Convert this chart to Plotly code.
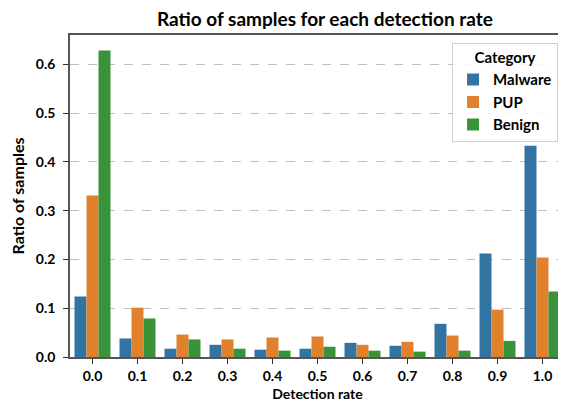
import plotly.graph_objects as go

rates = ["0.0", "0.1", "0.2", "0.3", "0.4", "0.5", "0.6", "0.7", "0.8", "0.9", "1.0"]
malware = [0.124, 0.038, 0.017, 0.025, 0.015, 0.017, 0.029, 0.023, 0.068, 0.212, 0.433]
pup = [0.331, 0.101, 0.046, 0.036, 0.040, 0.042, 0.025, 0.031, 0.044, 0.097, 0.204]
benign = [0.628, 0.079, 0.036, 0.017, 0.013, 0.021, 0.013, 0.011, 0.013, 0.033, 0.134]

series = [("Malware", malware, "#3274a1"), ("PUP", pup, "#e1812c"), ("Benign", benign, "#3a923a")]

font = "Lato, 'Open Sans', sans-serif"
fig = go.Figure()
for name, vals, col in series:
    fig.add_trace(go.Bar(x=rates, y=vals, name=name, marker=dict(color=col, line=dict(width=0))))

# page body has an 8px margin, so the figure is sized/offset to compensate
fig.update_layout(
    width=558, height=396,
    margin=dict(l=62, r=1, t=27, b=47),
    barmode="group", bargap=0.2, bargroupgap=0,
    plot_bgcolor="white", paper_bgcolor="white",
    font=dict(family=font, size=14, color="black"),
    title=dict(text="<b>Ratio of samples for each detection rate</b>", x=0.568, xanchor="center",
               xref="container", y=1 - 11 / 396, yref="container", yanchor="middle",
               font=dict(size=19, family=font)),
    legend=dict(title=dict(text="<b>Category</b>", side="top center", font=dict(size=15)),
                x=0.986, xanchor="right", y=0.976, yanchor="top",
                bordercolor="#d0d0d0", borderwidth=1, bgcolor="rgba(255,255,255,0.85)",
                font=dict(size=15, family=font, weight="bold"), itemwidth=30,
                tracegroupgap=2),
    showlegend=True,
)
fig.update_xaxes(
    range=[-0.5, 10.5], showline=True, linecolor="#555", linewidth=1.5, mirror=True,
    ticks="outside", ticklen=5, tickcolor="#333", showgrid=False, automargin=False,
    tickfont=dict(size=14, family=font, weight="bold"),
    title=dict(text="<b>Detection rate</b>", font=dict(size=14), standoff=7),
)
fig.update_yaxes(
    range=[0, 0.66], tickvals=[0, 0.1, 0.2, 0.3, 0.4, 0.5, 0.6], tickformat=".1f",
    showline=True, linecolor="#555", linewidth=1.5, mirror=True,
    ticks="outside", ticklen=5, tickcolor="#333", automargin=False, ticklabelstandoff=5,
    showgrid=True, gridcolor="#c0c0c0", griddash="dash", gridwidth=1, zeroline=False,
    tickfont=dict(size=14, family=font, weight="bold"),
    title=dict(text="<b>Ratio of samples</b>", font=dict(size=16), standoff=7),
)
fig.write_html("out.html")
